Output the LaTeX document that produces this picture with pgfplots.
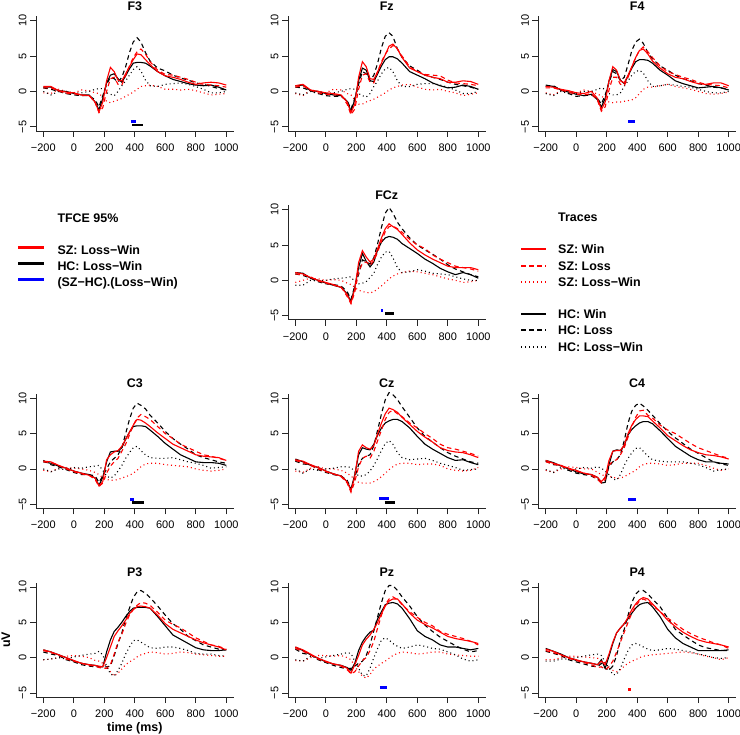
\documentclass[border=0pt]{standalone}
\usepackage{fontspec}
\setmainfont{Liberation Sans}
\usepackage{pgfplots}
\usepackage{pgfplotstable}
\pgfplotsset{compat=1.18}
\definecolor{rred}{RGB}{255,0,0}
\definecolor{rblue}{RGB}{0,0,255}

% columns: t, SZ win, SZ loss, SZ loss-win, HC win, HC loss, HC loss-win
\pgfplotstableread{
t sw sl sd hw hl hd
-200 0.7 0.5 -0.2 0.6 0.5 0.0
-150 0.7 0.5 -0.3 0.6 0.3 -0.5
-100 0.1 0.1 0.3 0.1 0.0 0.0
-50 -0.1 -0.3 0.0 0.0 -0.3 -0.3
0 -0.2 -0.3 -0.2 -0.3 -0.5 -0.2
50 -0.5 -0.6 0.2 -0.5 -0.6 -0.2
100 -0.6 -0.5 0.1 -0.5 -0.6 0.0
140 -1.5 -1.6 -0.2 -1.5 -1.2 0.3
165 -2.9 -3.0 -0.3 -2.6 -2.2 0.4
190 -1.5 -2.3 -0.8 -1.0 -0.6 0.4
215 1.5 0.0 -1.4 1.2 1.0 -0.2
240 3.4 1.8 -1.6 2.3 2.0 -0.4
265 2.8 2.0 -1.4 2.5 1.8 -0.6
290 1.6 1.0 -1.2 1.8 1.3 0.0
315 1.5 0.9 -1.0 1.3 2.0 0.8
340 2.5 2.3 -0.7 2.2 3.5 1.5
365 3.5 3.6 -0.4 3.2 5.5 2.3
390 4.5 4.8 -0.1 4.0 7.0 3.1
415 5.3 5.6 0.3 4.1 7.6 3.5
440 5.2 6.0 0.7 4.1 7.0 2.9
470 4.5 5.3 0.8 4.0 5.5 1.6
500 3.8 4.2 0.9 3.6 4.3 0.8
550 2.8 3.0 0.7 2.8 3.3 0.7
600 2.2 2.4 0.3 2.2 2.9 1.0
650 2.0 2.3 0.3 1.7 2.3 1.1
700 1.7 2.0 0.2 1.4 1.9 1.2
750 1.3 1.7 0.3 1.1 1.6 1.0
800 1.0 1.3 0.1 0.9 1.2 0.7
850 1.2 1.0 -0.2 0.8 1.0 0.3
900 1.3 0.9 -0.5 0.9 0.7 -0.2
950 1.2 0.8 -0.4 0.6 0.4 -0.2
1000 0.9 0.6 -0.3 0.2 0.2 0.0
}\tFthree

\pgfplotstableread{
t sw sl sd hw hl hd
-200 0.8 0.6 -0.3 0.8 0.6 -0.2
-150 1.0 0.8 -0.6 0.9 0.5 -0.5
-100 0.2 0.2 0.2 0.1 0.1 0.0
-50 0.0 -0.2 0.0 0.0 -0.3 -0.3
0 -0.2 -0.4 -0.2 -0.3 -0.6 -0.3
50 -0.3 -0.5 0.3 -0.5 -0.7 -0.2
100 -0.5 -0.5 0.2 -0.6 -0.7 0.0
140 -1.5 -1.8 -0.3 -1.4 -1.3 0.3
165 -3.0 -3.3 -0.5 -2.8 -2.5 0.4
190 -1.8 -2.5 -1.2 -1.2 -1.0 0.3
215 2.0 0.3 -1.8 1.5 1.0 -0.3
240 4.2 2.3 -1.8 3.3 2.8 -0.6
265 3.5 2.5 -1.5 3.0 2.5 -0.8
290 1.8 1.3 -1.3 1.5 1.5 -0.3
315 1.7 1.2 -1.1 1.4 2.3 0.7
340 2.8 2.8 -0.8 2.5 4.0 1.5
365 4.0 4.2 -0.5 3.6 6.2 2.5
390 5.2 5.3 -0.2 4.5 7.8 3.2
415 6.4 6.0 0.2 4.9 8.3 3.4
440 6.7 6.5 0.5 4.9 7.8 2.8
470 6.0 6.0 0.7 4.6 6.0 1.5
500 4.8 5.0 0.9 4.0 4.8 0.7
550 3.3 3.5 1.0 2.8 3.6 0.7
600 2.8 2.8 0.6 2.3 3.0 1.0
650 2.3 2.4 0.3 1.8 2.3 1.1
700 2.0 2.3 0.2 1.2 2.0 1.1
750 1.8 2.2 0.3 0.8 1.7 0.9
800 1.3 1.6 0.0 0.5 1.3 0.6
850 1.3 1.2 -0.2 0.6 1.0 0.2
900 1.5 1.1 -0.6 0.9 0.8 -0.3
950 1.4 1.0 -0.4 0.7 0.6 -0.3
1000 1.0 0.8 -0.2 0.3 0.3 0.0
}\tFz

\pgfplotstableread{
t sw sl sd hw hl hd
-200 0.7 0.5 -0.2 0.9 0.7 -0.3
-150 0.6 0.5 -0.5 0.7 0.8 -0.6
-100 0.3 0.2 0.1 0.2 0.2 0.0
-50 0.1 -0.1 0.0 -0.1 -0.3 -0.3
0 -0.2 -0.4 -0.2 -0.4 -0.7 -0.3
50 -0.3 -0.5 0.2 -0.6 -0.6 0.0
100 0.0 -0.3 0.0 -0.4 -0.5 0.0
140 -1.0 -1.3 -0.4 -1.2 -1.0 0.3
165 -2.6 -2.8 -0.6 -2.2 -1.8 0.5
190 -1.5 -2.2 -1.2 -1.0 -0.5 0.3
215 1.5 0.2 -1.5 1.5 1.2 -0.3
240 3.5 2.0 -1.6 3.1 2.8 -0.5
265 3.0 2.0 -1.5 2.8 2.5 -0.5
290 1.5 1.0 -1.5 1.6 1.5 -0.2
315 1.2 0.8 -1.4 1.1 2.0 0.7
340 2.3 2.0 -1.3 2.2 3.8 1.5
365 3.5 3.5 -1.2 3.3 5.8 2.3
390 4.8 4.8 -0.9 4.2 7.0 2.8
415 5.8 5.8 -0.3 4.5 7.4 3.0
440 6.0 6.3 0.3 4.5 6.8 2.6
470 5.3 5.6 0.6 4.4 5.5 1.5
500 4.3 4.8 0.6 4.0 4.6 0.7
550 3.3 3.6 0.8 3.0 3.6 0.8
600 2.5 2.8 1.0 2.3 3.0 1.0
650 2.0 2.4 0.7 1.5 2.3 0.9
700 1.8 2.0 0.5 1.1 1.8 0.7
750 1.4 1.7 0.3 0.8 1.5 0.6
800 1.1 1.3 0.0 0.5 1.1 0.3
850 1.0 1.0 -0.3 0.6 0.9 0.0
900 1.2 0.9 -0.4 0.7 0.6 -0.2
950 1.2 0.8 -0.3 0.5 0.5 -0.2
1000 0.8 0.5 -0.1 0.2 0.3 0.0
}\tFfour

\pgfplotstableread{
t sw sl sd hw hl hd
-200 1.1 0.9 -0.3 1.1 0.9 -0.7
-150 0.9 0.8 0.0 1.0 0.7 -0.7
-100 0.4 0.5 0.3 0.3 0.3 0.0
-50 0.0 -0.1 0.2 0.0 -0.2 -0.1
0 -0.3 -0.4 0.0 -0.4 -0.5 0.0
50 -0.6 -0.7 0.1 -0.7 -0.6 0.2
100 -1.0 -0.9 0.0 -1.0 -0.8 0.3
140 -2.0 -2.3 -0.4 -1.9 -1.6 0.4
165 -3.2 -3.3 -0.6 -3.0 -2.7 0.5
190 -1.2 -1.7 -1.0 -1.0 -0.8 -0.2
215 2.5 1.2 -1.4 1.8 0.8 -0.5
240 4.2 2.4 -1.6 3.8 2.9 -0.4
265 3.3 2.6 -1.7 2.7 2.6 -0.2
290 2.6 2.1 -1.8 1.9 2.3 0.4
315 3.0 2.8 -1.6 2.6 3.2 1.0
340 4.5 4.0 -1.2 4.3 5.2 2.3
365 6.0 5.5 -0.8 5.4 7.5 3.3
390 7.3 6.9 -0.3 6.0 9.5 4.0
415 8.0 7.6 0.2 6.2 10.3 4.1
440 7.6 7.7 0.6 6.1 9.5 3.2
470 7.2 7.3 0.9 5.8 8.2 1.8
500 6.5 6.8 1.1 5.2 7.3 1.1
550 5.3 5.8 1.3 4.5 6.0 1.2
600 4.3 5.0 1.2 3.8 5.0 1.5
650 3.6 4.5 1.0 3.0 4.3 1.3
700 3.0 3.6 0.8 2.4 3.7 1.0
750 2.5 3.0 0.5 1.7 3.0 0.9
800 2.0 2.5 0.2 1.2 2.2 0.8
850 1.8 2.0 0.0 0.8 1.6 0.5
900 1.8 1.8 -0.3 1.1 1.2 0.2
950 1.8 1.6 -0.2 0.8 0.8 0.0
1000 1.5 1.3 0.0 0.3 0.5 0.0
}\tFCz

\pgfplotstableread{
t sw sl sd hw hl hd
-200 1.1 1.0 -0.2 1.0 1.2 0.0
-150 1.0 0.9 -0.4 0.8 0.6 -0.4
-100 0.5 0.5 0.1 0.4 0.3 0.0
-50 0.1 0.0 0.2 0.1 -0.1 -0.1
0 -0.3 -0.4 0.1 -0.3 -0.5 0.2
50 -0.6 -0.7 0.0 -0.6 -0.8 0.1
100 -0.9 -0.9 -0.2 -0.8 -0.8 0.3
140 -1.3 -1.5 -0.5 -1.3 -1.0 0.4
165 -2.4 -2.5 -0.8 -2.3 -1.9 0.5
190 -1.8 -2.0 -1.2 -1.2 -1.0 -0.2
215 1.3 -0.6 -1.5 1.0 0.0 -1.0
240 2.0 0.4 -1.6 2.4 1.0 -1.3
265 2.4 1.0 -1.6 2.5 1.5 -1.0
290 2.6 1.5 -1.5 2.5 2.0 -0.3
315 3.2 2.5 -1.3 3.0 3.0 0.5
340 4.2 3.5 -1.1 4.2 5.0 1.5
365 5.2 4.8 -0.9 5.2 7.0 2.3
390 6.2 6.2 -0.6 6.0 8.6 3.0
415 7.0 7.2 -0.2 6.1 9.3 3.2
440 6.9 7.7 0.3 6.1 9.0 2.6
470 6.5 7.4 0.7 6.0 8.5 2.0
500 6.0 7.0 0.8 5.5 7.6 1.6
550 5.1 6.0 0.8 4.6 6.5 1.5
600 4.3 5.0 0.6 3.6 5.3 1.5
650 3.5 4.3 0.5 2.8 4.3 1.6
700 3.0 3.5 0.4 2.0 3.5 1.3
750 2.5 3.0 0.3 1.5 2.8 1.0
800 2.0 2.5 0.0 1.0 2.0 0.8
850 1.8 2.0 -0.2 0.9 1.6 0.5
900 1.7 1.8 -0.3 0.9 1.3 0.1
950 1.6 1.5 -0.2 0.8 1.0 0.2
1000 1.2 1.2 0.0 0.5 0.8 0.3
}\tCthree

\pgfplotstableread{
t sw sl sd hw hl hd
-200 1.3 1.2 -0.3 1.4 1.1 0.0
-150 1.1 0.9 -0.5 1.0 0.7 -0.6
-100 0.6 0.5 0.1 0.5 0.6 0.0
-50 0.2 0.0 0.3 0.2 -0.1 -0.2
0 -0.3 -0.4 0.0 -0.3 -0.5 0.0
50 -0.7 -0.7 0.0 -0.7 -0.8 0.1
100 -1.0 -1.1 -0.2 -1.0 -1.0 0.3
140 -1.8 -2.0 -0.6 -1.8 -1.6 0.3
165 -3.1 -3.3 -1.0 -2.9 -2.8 0.2
190 -1.0 -1.8 -1.5 -0.8 -1.2 -0.4
215 2.5 0.3 -1.9 2.0 0.6 -1.0
240 3.4 1.5 -2.0 3.0 1.5 -1.0
265 3.0 1.8 -2.0 2.8 1.8 -0.8
290 2.8 1.5 -2.0 2.7 2.0 -0.3
315 3.3 2.5 -1.8 3.5 3.3 0.5
340 5.0 4.0 -1.5 4.8 5.5 1.5
365 6.5 5.5 -1.1 5.8 7.8 2.6
390 7.8 7.0 -0.6 6.5 9.8 3.6
415 8.6 8.0 -0.1 6.8 10.8 4.0
440 8.4 8.3 0.3 7.0 10.5 3.5
470 8.0 7.8 0.7 7.0 9.8 2.3
500 7.3 7.4 0.8 6.7 8.8 1.6
550 6.3 6.5 0.8 5.8 7.3 1.3
600 5.3 5.8 0.6 4.6 5.8 1.4
650 4.5 5.0 0.7 3.5 4.6 1.5
700 3.8 4.3 0.7 2.8 3.8 1.2
750 3.0 3.5 0.5 2.2 3.0 0.8
800 2.6 3.0 0.0 1.6 2.3 0.5
850 2.4 2.8 -0.2 1.2 1.8 0.2
900 2.3 2.5 -0.3 1.3 1.4 -0.2
950 2.0 2.2 -0.2 0.9 1.0 -0.1
1000 1.6 1.8 0.2 0.6 0.8 0.0
}\tCz

\pgfplotstableread{
t sw sl sd hw hl hd
-200 1.2 1.0 -0.2 1.2 1.1 -0.1
-150 0.8 0.7 -0.5 0.9 0.6 -0.5
-100 0.5 0.4 0.0 0.4 0.5 0.2
-50 0.1 0.0 0.3 0.0 -0.2 -0.2
0 -0.2 -0.3 0.2 -0.4 -0.6 0.0
50 -0.6 -0.6 0.0 -0.7 -0.8 0.2
100 -0.8 -0.9 0.0 -0.8 -1.0 0.1
140 -1.2 -1.5 -0.5 -1.2 -1.5 0.3
165 -1.8 -2.0 -0.8 -2.0 -1.8 0.1
190 -1.2 -1.5 -1.0 -1.9 -1.2 -0.3
215 1.2 0.5 -1.0 0.6 0.3 -0.8
240 2.5 1.1 -1.2 2.5 1.0 -1.4
265 2.6 1.3 -1.3 2.7 1.3 -1.6
290 2.6 2.0 -1.3 2.6 2.0 -0.8
315 3.4 3.0 -1.1 3.3 4.0 0.5
340 5.0 4.5 -0.8 4.8 6.5 1.5
365 6.2 6.0 -0.5 5.6 8.2 2.3
390 7.0 7.3 -0.2 6.1 9.0 2.9
415 7.5 8.2 0.3 6.5 9.3 3.0
440 7.5 8.3 0.6 6.7 8.9 2.5
470 7.4 7.6 0.8 6.7 8.3 1.8
500 6.8 7.2 0.8 6.4 7.6 1.3
550 5.8 6.2 0.7 5.4 6.4 1.1
600 4.7 5.5 0.5 4.3 5.3 1.0
650 4.0 5.0 0.6 3.2 4.4 1.0
700 3.3 4.3 0.8 2.5 3.6 1.0
750 2.7 3.6 0.8 1.8 2.8 0.8
800 2.3 3.0 0.8 1.3 2.2 0.6
850 2.0 2.6 0.5 1.0 1.6 0.2
900 1.9 2.2 0.1 1.0 1.0 -0.3
950 1.7 1.8 -0.2 0.8 0.7 -0.1
1000 1.4 1.5 0.0 0.7 0.5 0.0
}\tCfour

\pgfplotstableread{
t sw sl sd hw hl hd
-200 1.1 1.0 -0.3 1.1 0.8 -0.3
-150 0.8 0.7 -0.2 0.8 0.5 -0.2
-100 0.4 0.4 0.0 0.4 0.3 0.0
-50 0.0 -0.2 0.2 0.0 -0.3 -0.2
0 -0.4 -0.5 0.3 -0.5 -0.6 0.1
50 -0.8 -0.8 0.2 -0.8 -1.0 0.3
100 -1.0 -1.1 0.0 -1.0 -1.2 0.5
140 -1.1 -1.2 -0.4 -1.1 -1.3 0.6
165 -1.2 -1.4 -0.5 -1.3 -1.3 0.9
190 -1.3 -1.5 -0.8 -1.3 -1.3 0.4
215 0.0 -1.5 -1.3 0.8 -1.3 -1.2
240 1.5 -1.0 -2.0 2.5 -1.2 -2.3
265 3.0 0.5 -2.6 3.7 0.3 -2.6
290 3.8 2.2 -2.2 4.3 2.0 -1.8
315 4.5 3.3 -1.6 5.0 3.5 -0.8
340 5.3 4.8 -1.0 5.8 5.5 0.5
365 6.2 6.0 -0.6 6.5 7.0 1.5
390 6.8 6.8 -0.3 7.0 8.5 2.4
415 7.2 7.4 0.1 7.1 9.3 2.5
440 7.3 7.8 0.4 7.1 9.5 2.2
470 7.2 7.7 0.6 7.1 9.1 1.8
500 7.0 7.4 0.8 7.0 8.5 1.4
550 6.0 6.4 0.7 5.8 7.3 1.3
600 4.8 5.3 0.5 4.5 6.0 1.5
650 4.0 4.7 0.6 3.2 4.8 1.5
700 3.5 4.2 0.8 2.6 4.0 1.3
750 3.0 3.5 0.7 2.0 3.0 1.0
800 2.5 2.8 0.5 1.4 2.4 0.6
850 2.1 2.3 0.4 1.1 1.8 0.5
900 1.8 1.8 0.3 1.0 1.5 0.5
950 1.5 1.6 0.2 1.0 1.2 0.3
1000 1.1 1.2 0.2 1.1 1.1 0.2
}\tPthree

\pgfplotstableread{
t sw sl sd hw hl hd
-200 1.5 1.3 -0.4 1.5 1.2 -0.3
-150 1.1 0.9 -0.5 1.0 0.6 -0.5
-100 0.5 0.4 0.0 0.4 0.4 0.2
-50 -0.1 -0.2 0.3 -0.1 -0.3 -0.1
0 -0.5 -0.6 0.3 -0.6 -0.7 0.1
50 -0.9 -0.9 0.2 -0.9 -1.1 0.3
100 -1.1 -1.2 0.3 -1.1 -1.4 0.5
140 -1.5 -1.7 0.0 -1.4 -1.6 0.7
165 -2.2 -2.3 -0.3 -1.8 -1.5 0.6
190 -1.0 -2.0 -1.2 -0.8 -1.2 -0.5
215 0.3 -1.2 -2.0 1.0 -0.8 -1.5
240 1.8 -0.4 -2.6 2.2 -0.5 -2.5
265 2.6 0.0 -2.9 3.0 0.3 -2.6
290 3.2 1.0 -2.4 3.6 1.8 -1.5
315 4.0 2.3 -1.6 3.9 3.8 0.0
340 5.0 4.2 -1.2 5.5 5.8 1.3
365 6.2 6.0 -0.8 6.5 7.8 2.5
390 7.3 7.5 -0.5 7.5 9.5 2.8
415 8.0 8.3 -0.1 7.7 10.2 2.5
440 8.3 8.6 0.3 7.8 10.2 2.0
470 8.3 8.2 0.6 7.6 9.5 1.6
500 7.6 7.5 0.8 7.0 8.6 1.3
550 6.3 6.5 0.7 5.5 7.3 1.5
600 5.3 5.7 0.5 3.8 5.8 1.8
650 4.7 5.0 0.6 3.0 4.6 1.6
700 4.2 4.5 0.8 2.5 3.7 1.3
750 3.6 3.7 0.8 1.8 2.9 1.2
800 3.0 3.3 0.5 1.5 2.3 0.8
850 2.7 3.0 0.4 1.5 1.7 0.4
900 2.5 2.7 0.3 1.3 1.2 -0.2
950 2.3 2.3 0.2 1.1 0.8 -0.5
1000 2.0 1.8 0.2 1.3 1.0 -0.3
}\tPz

\pgfplotstableread{
t sw sl sd hw hl hd
-200 1.2 1.0 -0.3 1.3 0.9 -0.5
-150 0.9 0.7 -0.3 0.9 0.6 -0.5
-100 0.4 0.4 0.0 0.5 0.3 -0.2
-50 0.0 -0.1 0.2 0.0 -0.3 -0.2
0 -0.3 -0.4 0.2 -0.4 -0.6 0.0
50 -0.6 -0.7 0.1 -0.6 -0.9 0.2
100 -0.8 -1.0 0.0 -0.8 -1.2 0.4
140 -1.0 -1.4 -0.1 -1.0 -1.3 0.5
165 -0.5 -1.3 -0.3 -0.3 -0.8 0.3
190 -1.0 -1.7 -0.8 -1.5 -1.5 -0.6
215 0.5 -1.3 -1.5 0.2 -1.8 -1.5
240 2.2 -0.5 -1.8 2.0 -1.2 -2.4
265 3.5 0.8 -2.0 3.5 0.3 -2.4
290 4.2 2.2 -1.7 4.2 2.5 -1.5
315 4.8 3.6 -1.2 4.8 4.0 -0.2
340 5.7 5.0 -0.8 5.5 6.0 1.0
365 6.8 6.3 -0.5 6.3 7.8 1.8
390 7.6 7.3 -0.3 7.0 9.0 2.0
415 8.2 8.0 0.0 7.5 9.5 1.8
440 8.5 8.3 0.2 7.7 9.5 1.5
470 8.3 8.0 0.3 7.8 9.0 1.2
500 7.6 7.4 0.4 7.2 8.3 1.0
550 6.5 6.5 0.5 5.8 7.2 1.1
600 5.3 5.6 0.6 4.0 5.6 1.3
650 4.4 4.8 0.7 2.8 4.0 1.2
700 3.6 4.0 0.8 2.0 3.2 1.0
750 3.0 3.4 0.7 1.5 2.5 0.8
800 2.5 2.9 0.5 1.0 1.8 0.5
850 2.2 2.5 0.2 1.0 1.4 0.3
900 2.0 2.1 0.0 1.0 1.2 0.0
950 1.8 1.8 -0.3 1.0 1.0 -0.1
1000 1.5 1.3 0.0 1.1 1.0 0.0
}\tPfour

\pgfplotsset{
  erp/.style={
    scale only axis, width=197.6bp, height=114.5bp,
    xmin=-248, xmax=1048, ymin=-5.6, ymax=10.6,
    axis x line*=bottom, axis y line*=left,
    axis line style={-, line width=0.8bp, black!85},
    xtick={-200,0,200,400,600,800,1000},
    xticklabels={−200,0,200,400,600,800,1000},
    ytick={-5,0,5,10},
    yticklabels={−5,0,5,10},
    tick align=outside, major tick length=6bp,
    tick style={line width=0.8bp, black!85},
    tick label style={font=\fontsize{11}{13}\selectfont},
    xticklabel shift=3bp,
    yticklabel style={rotate=90, anchor=south},
    every axis title/.style={font=\bfseries\fontsize{12.5}{15}\selectfont, at={(0.5,1)}, anchor=center, yshift=10.5bp},
    xlabel style={font=\bfseries\fontsize{12.5}{15}\selectfont, at={(axis description cs:0.5,-0.271)}, anchor=center},
    ylabel style={font=\bfseries\fontsize{12.5}{15}\selectfont, at={(axis description cs:-0.152,0.5)}, anchor=center},
    clip=false,
  },
  sigbar/.style={line width=2.8bp},
}

\newcommand{\traces}[1]{%
  \addplot[rred, line width=1.1bp, dash pattern=on 1bp off 3bp] table[x=t,y=sd]{#1};
  \addplot[black, line width=1.1bp, dash pattern=on 1bp off 3bp] table[x=t,y=hd]{#1};
  \addplot[black, line width=1.1bp, dash pattern=on 4.5bp off 3.5bp] table[x=t,y=hl]{#1};
  \addplot[black, line width=1.1bp] table[x=t,y=hw]{#1};
  \addplot[rred, line width=1.1bp, dash pattern=on 4.5bp off 3.5bp] table[x=t,y=sl]{#1};
  \addplot[rred, line width=1.1bp] table[x=t,y=sw]{#1};
}

\begin{document}
\begin{tikzpicture}
\useasboundingbox (0,0) rectangle (740bp,735bp);

% Row 1
\begin{axis}[erp, at={(36bp,604bp)}, anchor=south west, title={F3}]
\traces{\tFthree}
\addplot[sigbar, rblue] coordinates {(375,-4.3) (408,-4.3)};
\addplot[sigbar, black] coordinates {(384,-4.75) (452,-4.75)};
\end{axis}
\begin{axis}[erp, at={(288bp,604bp)}, anchor=south west, title={Fz}]
\traces{\tFz}
\end{axis}
\begin{axis}[erp, at={(538.4bp,604bp)}, anchor=south west, title={F4}]
\traces{\tFfour}
\addplot[sigbar, rblue] coordinates {(341,-4.28) (387,-4.28)};
\end{axis}

% Row 2
\begin{axis}[erp, at={(288bp,415.1bp)}, anchor=south west, title={FCz}]
\traces{\tFCz}
\addplot[sigbar, rblue] coordinates {(362,-4.25) (376,-4.25)};
\addplot[sigbar, black] coordinates {(387,-4.72) (444,-4.72)};
\end{axis}

% Row 3
\begin{axis}[erp, at={(36bp,226.5bp)}, anchor=south west, title={C3}]
\traces{\tCthree}
\addplot[sigbar, rblue] coordinates {(369,-4.28) (397,-4.28)};
\addplot[sigbar, black] coordinates {(384,-4.75) (460,-4.75)};
\end{axis}
\begin{axis}[erp, at={(288bp,226.5bp)}, anchor=south west, title={Cz}]
\traces{\tCz}
\addplot[sigbar, rblue] coordinates {(350,-4.2) (412,-4.2)};
\addplot[sigbar, black] coordinates {(386,-4.7) (452,-4.7)};
\end{axis}
\begin{axis}[erp, at={(538.4bp,226.5bp)}, anchor=south west, title={C4}]
\traces{\tCfour}
\addplot[sigbar, rblue] coordinates {(342,-4.3) (392,-4.3)};
\end{axis}

% Row 4
\begin{axis}[erp, at={(36bp,37.8bp)}, anchor=south west, title={P3}, xlabel={time (ms)}, ylabel={uV}]
\traces{\tPthree}
\end{axis}
\begin{axis}[erp, at={(288bp,37.8bp)}, anchor=south west, title={Pz}]
\traces{\tPz}
\addplot[sigbar, rblue] coordinates {(355,-4.23) (399,-4.23)};
\end{axis}
\begin{axis}[erp, at={(538.4bp,37.8bp)}, anchor=south west, title={P4}]
\traces{\tPfour}
\addplot[sigbar, rred] coordinates {(340,-4.5) (362,-4.5)};
\end{axis}

% Legend: TFCE
\begin{axis}[at={(17bp,521.5bp)}, anchor=north west, scale only axis, width=10bp, height=10bp, hide axis,
  xmin=0, xmax=1, ymin=0, ymax=1,
  legend cell align=left,
  legend style={at={(0,1)}, anchor=north west, draw=none, fill=none, inner sep=0pt, outer sep=0pt,
    row sep=4.5bp, column sep=12bp, font=\bfseries\fontsize{12.5}{15}\selectfont,
    nodes={inner sep=0pt, text height=9bp, text depth=2.5bp}},
  legend image code/.code={\draw[#1] (0bp,3.5bp) -- (26bp,3.5bp);}]
\addlegendimage{empty legend}\addlegendentry{TFCE 95\%}
\addlegendimage{empty legend}\addlegendentry{}
\addlegendimage{rred, line width=2.5bp}\addlegendentry{SZ: Loss−Win}
\addlegendimage{black, line width=2.5bp}\addlegendentry{HC: Loss−Win}
\addlegendimage{rblue, line width=2.5bp}\addlegendentry{(SZ−HC).(Loss−Win)}
\end{axis}

% Legend: Traces (keys drawn directly)
\begin{scope}[every node/.style={font=\bfseries\fontsize{12.5}{15}\selectfont, anchor=base west, inner sep=0pt}]
\node at (558bp,513.5bp) {Traces};
\draw[draw=rred, line width=1.2bp] (521bp,486bp) -- (546bp,486bp);
\node at (558bp,481.5bp) {SZ: Win};
\draw[draw=rred, line width=1.2bp, dash pattern=on 4.5bp off 3.5bp] (521bp,469bp) -- (546bp,469bp);
\node at (558bp,464.5bp) {SZ: Loss};
\draw[draw=rred, line width=1.2bp, dash pattern=on 1bp off 3bp] (521bp,453bp) -- (546bp,453bp);
\node at (558bp,448.5bp) {SZ: Loss−Win};
\draw[draw=black, line width=1.2bp] (521bp,421bp) -- (546bp,421bp);
\node at (558bp,416.5bp) {HC: Win};
\draw[draw=black, line width=1.2bp, dash pattern=on 4.5bp off 3.5bp] (521bp,405bp) -- (546bp,405bp);
\node at (558bp,400.5bp) {HC: Loss};
\draw[draw=black, line width=1.2bp, dash pattern=on 1bp off 3bp] (521bp,388bp) -- (546bp,388bp);
\node at (558bp,383.5bp) {HC: Loss−Win};
\end{scope}
\end{tikzpicture}
\end{document}
